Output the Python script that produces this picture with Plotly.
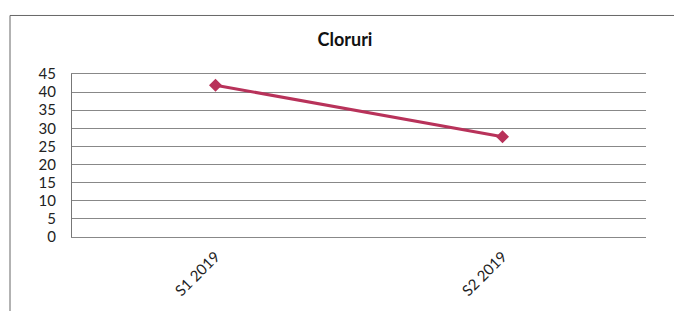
import plotly.graph_objects as go

categories = ["S1 2019", "S2 2019"]
values = [41.9, 27.7]
y_ticks = [0, 5, 10, 15, 20, 25, 30, 35, 40, 45]
title_text = "Cloruri"

fig = go.Figure()
fig.add_trace(go.Scatter(
    x=categories, y=values, mode="lines+markers",
    line=dict(color="#b8325a", width=3),
    marker=dict(symbol="diamond", size=10, color="#b8325a"),
    showlegend=False,
))

# page body has an 8px margin; figure is sized/offset to compensate
fig.update_layout(
    width=674, height=303,
    margin=dict(l=64, r=36, t=66, b=70),
    paper_bgcolor="white", plot_bgcolor="white",
    title=dict(text="<b>" + title_text + "</b>", x=0.5, xanchor="center",
               y=0.894, yanchor="middle",
               font=dict(family="Lato, Open Sans, sans-serif", size=18, color="#111")),
    font=dict(family="Lato, Open Sans, sans-serif", size=15, color="#222"),
    xaxis=dict(type="category", range=[-0.5, 1.5], tickangle=-45,
               showgrid=False, showline=True, mirror=True, linecolor="#888",
               linewidth=1, ticks="", ticklabelstandoff=4, tickfont=dict(size=15)),
    yaxis=dict(range=[0, 45], tickvals=y_ticks, showgrid=True,
               gridcolor="#888", gridwidth=1, showline=True, linecolor="#777",
               linewidth=1, ticks="", zeroline=False, ticklabelstandoff=12,
               tickfont=dict(size=15)),
    shapes=[dict(type="rect", xref="paper", yref="paper",
                 x0=-0.108, x1=1.08, y0=-0.5, y1=1.359,
                 line=dict(color="#666", width=1), fillcolor="rgba(0,0,0,0)",
                 layer="below")],
)

fig.write_html("out.html")
